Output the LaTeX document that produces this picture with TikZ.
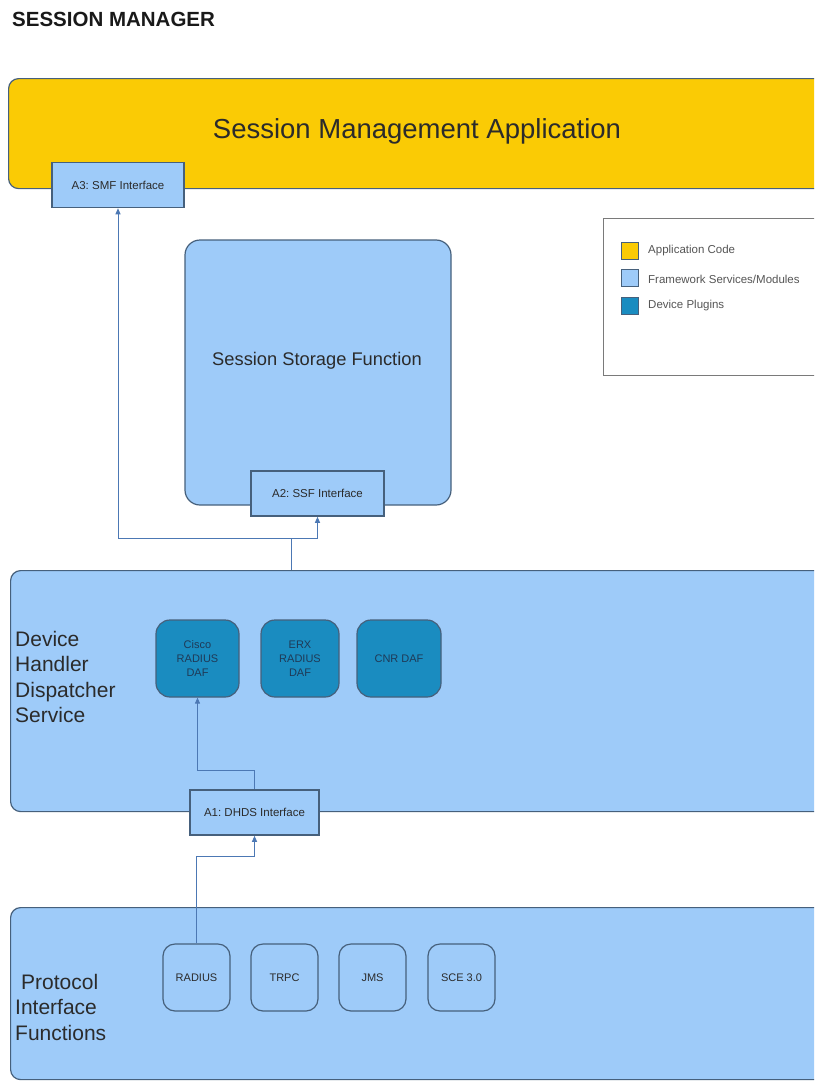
\documentclass[tikz,border=0pt]{standalone}
\usepackage{fontspec}
\setmainfont{Liberation Sans}
\usetikzlibrary{arrows.meta}

\definecolor{appyellow}{HTML}{FACB05}
\definecolor{fwblue}{HTML}{9ECBF9}
\definecolor{plugblue}{HTML}{1A8CC0}
\definecolor{edgecol}{HTML}{46607C}
\definecolor{wirecol}{HTML}{4C78B4}
\definecolor{legendedge}{HTML}{7A7A7A}
\definecolor{inkcol}{HTML}{2B2B2B}
\definecolor{pluginink}{HTML}{1F3A57}

\tikzset{
  panel/.style={draw=edgecol, fill=fwblue, line width=1.2pt, rounded corners=10pt, inner sep=0pt},
  iface/.style={draw=edgecol, fill=fwblue, line width=1.6pt, inner sep=0pt, text=inkcol,
    minimum height=45pt, font=\fontsize{11.5}{13}\selectfont},
  plugin/.style={draw=edgecol, fill=plugblue, line width=1.2pt, rounded corners=14pt, inner sep=0pt,
    minimum height=77pt, align=center, text=pluginink, font=\fontsize{11}{14}\selectfont},
  proto/.style={draw=edgecol, fill=fwblue, line width=1.2pt, rounded corners=12pt, inner sep=0pt,
    minimum width=67pt, minimum height=67pt, text=inkcol, font=\fontsize{11}{13}\selectfont},
  swatch/.style={draw=edgecol, line width=0.9pt, minimum width=17pt, minimum height=17pt, inner sep=0pt},
  legendtext/.style={anchor=west, inner sep=0pt, text=inkcol!80, font=\fontsize{11.5}{13}\selectfont},
  sidelabel/.style={anchor=west, align=left, inner sep=0pt, text=inkcol, font=\fontsize{21}{25.5}\selectfont},
  wire/.style={draw=wirecol, line width=1pt},
  wirearrow/.style={wire, -{Triangle[width=5pt,length=6pt]}},
}

\begin{document}
\frenchspacing
\begin{tikzpicture}[x=1pt,y=-1pt]
  \clip (0,0) rectangle (814,1081);
  \fill[white] (0,0) rectangle (814,1081);

  % title
  \node[anchor=west, inner sep=0pt, text=black!90, font=\fontsize{20.5}{24}\selectfont\bfseries] (title) at (12,19) {SESSION MANAGER};

  % application layer
  \node[panel, fill=appyellow, anchor=north west, minimum width=830pt, minimum height=110pt] (app) at (8,78) {};
  \node[inner sep=0pt, text=inkcol, font=\fontsize{27.5}{32}\selectfont] (apptext) at (417,131) {Session Management Application};
  \node[iface, minimum width=132pt] (a3) at (118,185) {A3: SMF Interface};

  % session storage
  \node[panel, rounded corners=15pt, minimum width=266pt, minimum height=265pt] (ssf) at (318,372.5) {};
  \node[inner sep=0pt, text=inkcol, font=\fontsize{18.3}{22}\selectfont] (ssftext) at (317,361) {Session Storage Function};
  \node[iface, minimum width=133pt] (a2) at (317.5,493.5) {A2: SSF Interface};

  % legend
  \node[draw=legendedge, fill=white, line width=1pt, anchor=north west, minimum width=230pt, minimum height=157pt, inner sep=0pt] (legend) at (603,218) {};
  \node[swatch, fill=appyellow] (sw1) at (629.5,250.5) {};
  \node[swatch, fill=fwblue] (sw2) at (629.5,278) {};
  \node[swatch, fill=plugblue] (sw3) at (629.5,306) {};
  \node[legendtext] (lg1) at (648,251) {Application Code};
  \node[legendtext] (lg2) at (648,279) {Framework Services/Modules};
  \node[legendtext] (lg3) at (648,306) {Device Plugins};

  % device handler dispatcher service
  \node[panel, anchor=north west, minimum width=830pt, minimum height=241pt] (dhds) at (10,570) {};
  \node[sidelabel] (dhdstext) at (15,677) {Device\\Handler\\Dispatcher\\Service};
  \node[plugin, minimum width=83pt] (cisco) at (197.5,658.5) {Cisco\\RADIUS\\DAF};
  \node[plugin, minimum width=78pt] (erx) at (300,658.5) {ERX\\RADIUS\\DAF};
  \node[plugin, minimum width=84pt] (cnr) at (399,658.5) {CNR DAF};
  \node[iface, minimum width=129pt] (a1) at (254.5,812.5) {A1: DHDS Interface};

  % protocol interface functions
  \node[panel, anchor=north west, minimum width=830pt, minimum height=172pt] (pif) at (10,907) {};
  \node[sidelabel] (piftext) at (15,1007) {\hspace*{6pt}Protocol\\Interface\\Functions};
  \node[proto] (radius) at (196.5,977.5) {RADIUS};
  \node[proto] (trpc) at (284.5,977.5) {TRPC};
  \node[proto] (jms) at (372.5,977.5) {JMS};
  \node[proto] (sce) at (461.5,977.5) {SCE 3.0};

  % connectors
  \coordinate (split) at (291,538);
  \draw[wire] (split |- dhds.north) -- (split);
  \draw[wirearrow] (split) -| (a3.south);
  \draw[wirearrow] (split) -| (a2.south);

  \coordinate (bendup) at (254.5,770);
  \draw[wirearrow] (a1.north) -- (bendup) -| (cisco.south);

  \coordinate (benddown) at (196.5,856);
  \draw[wirearrow] (radius.north) -- (benddown) -| (a1.south);
\end{tikzpicture}
\end{document}
